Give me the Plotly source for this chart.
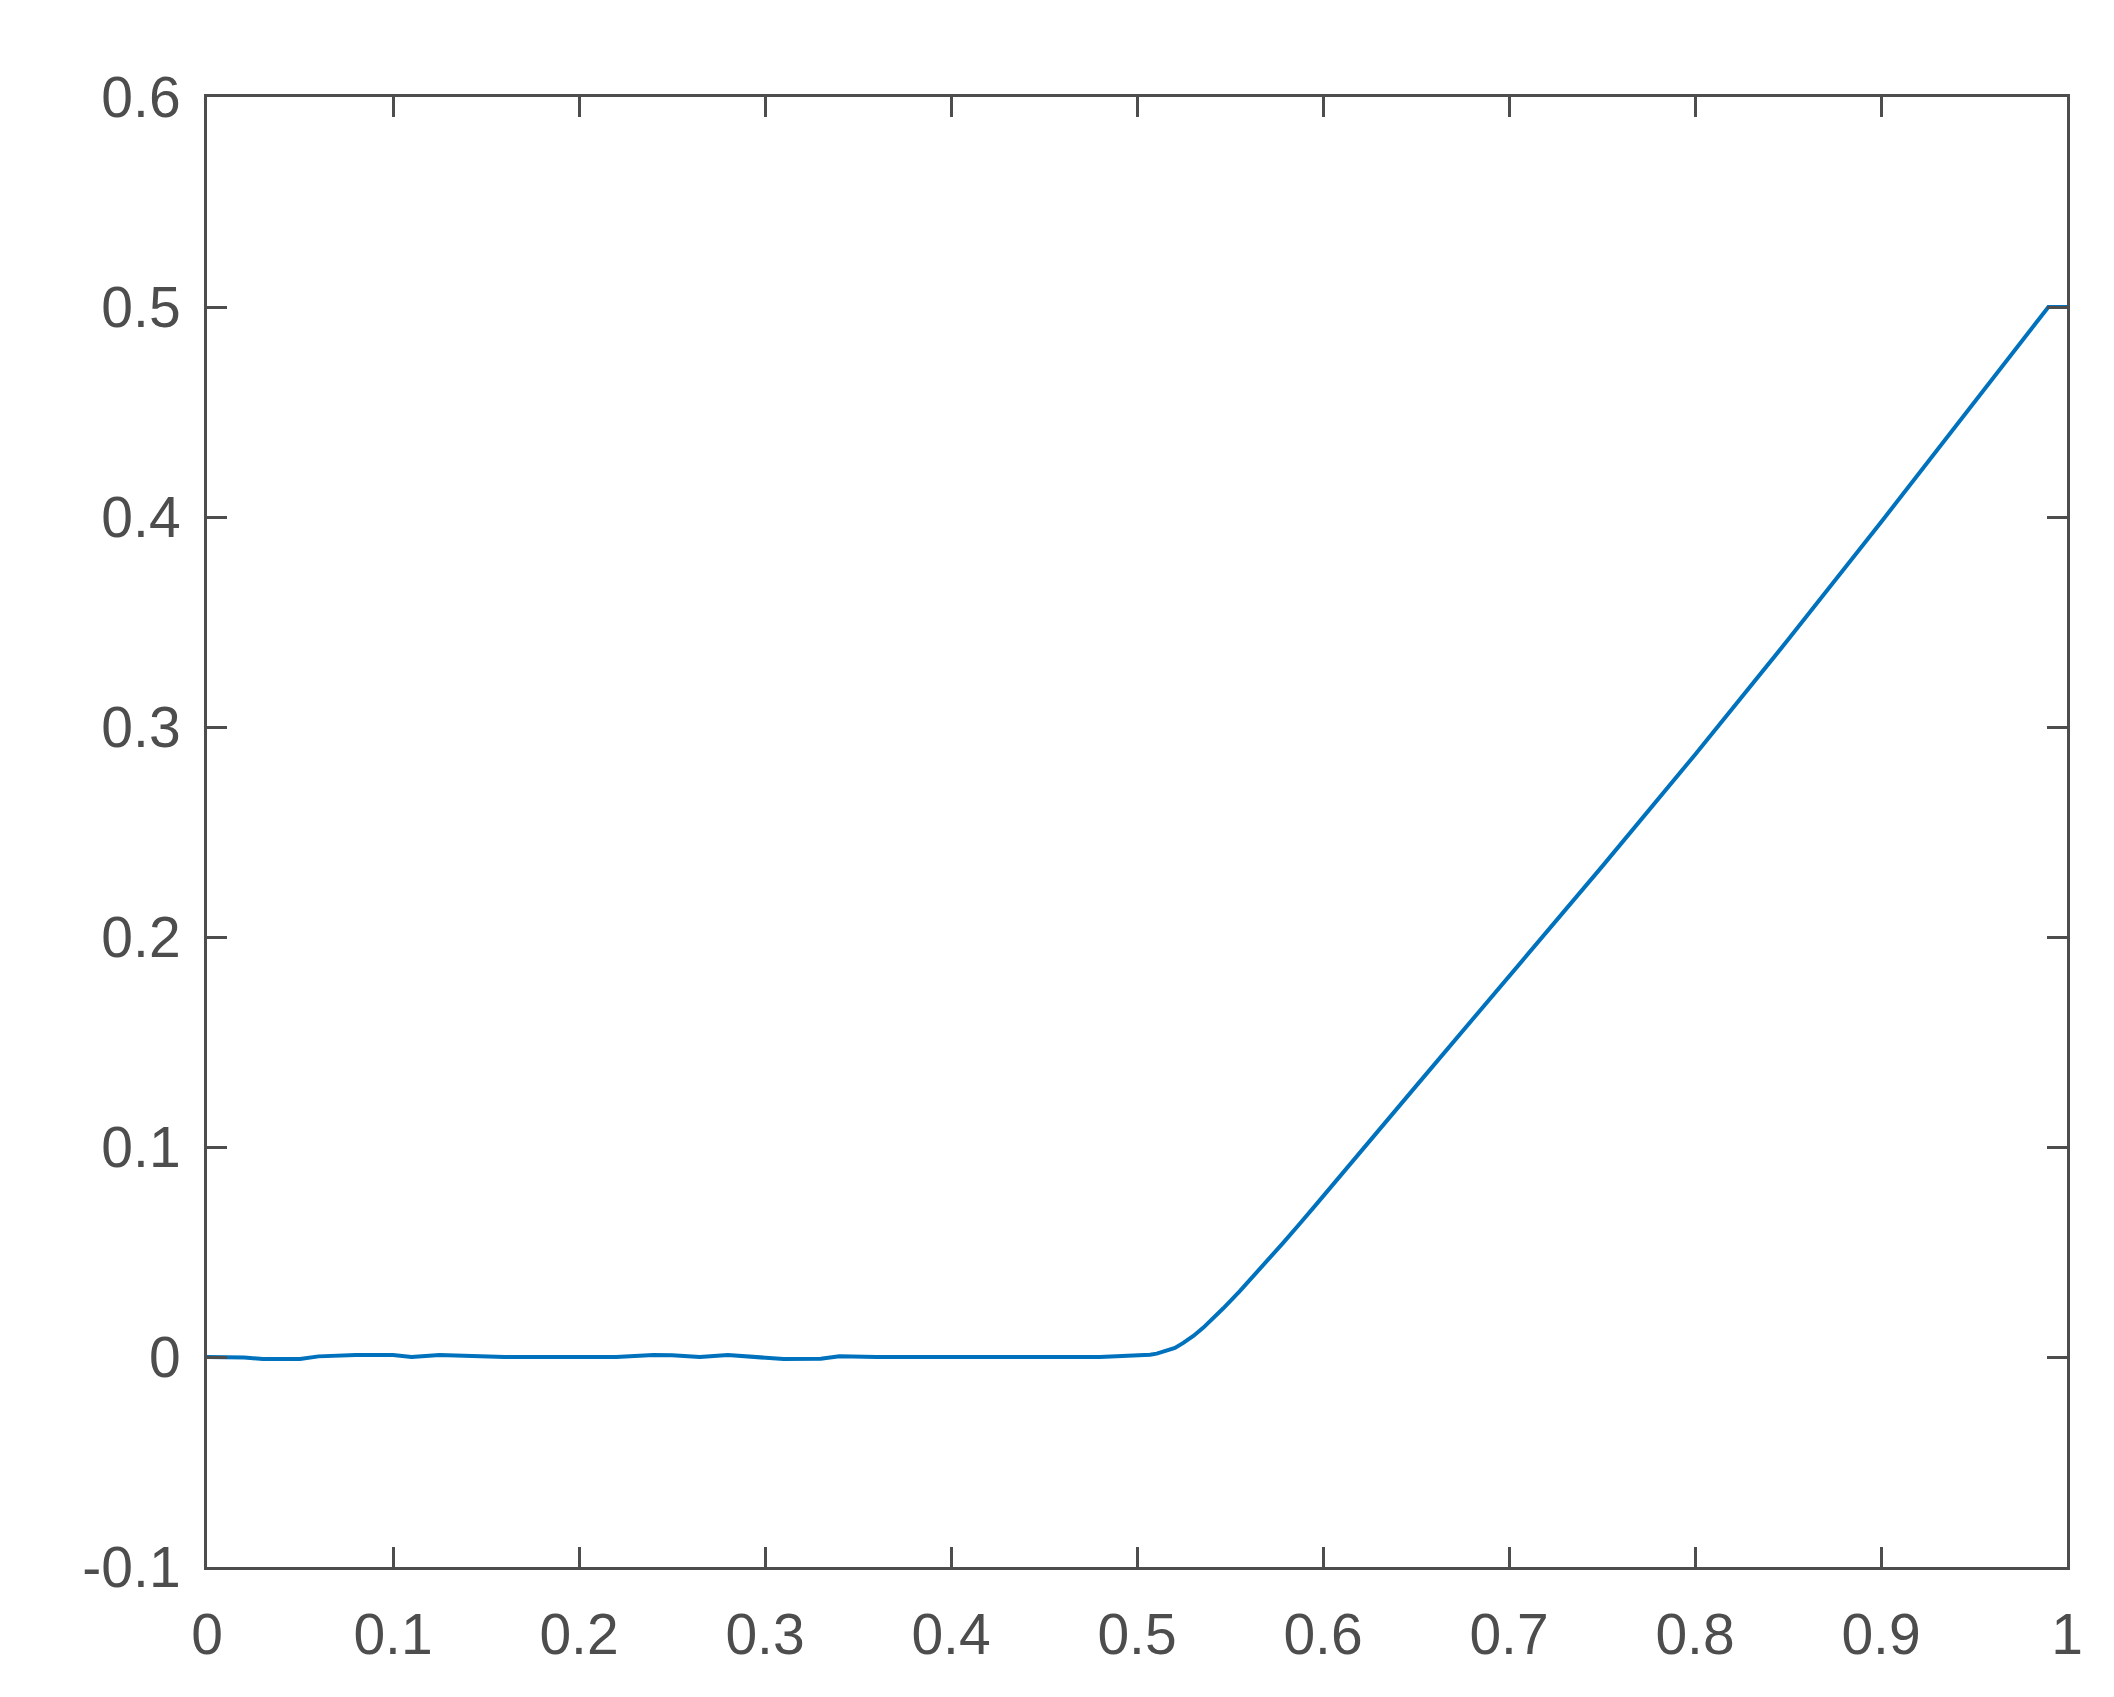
import plotly.graph_objects as go

# curve
x_vals = [0.0, 0.01, 0.02, 0.03, 0.05, 0.06, 0.08, 0.10, 0.11, 0.125, 0.14, 0.16,
          0.22, 0.24, 0.25, 0.265, 0.28, 0.295, 0.31, 0.33, 0.34, 0.36, 0.39, 0.40,
          0.42, 0.48, 0.4909, 0.5025, 0.507, 0.5106, 0.516, 0.5204, 0.5249, 0.5303,
          0.5357, 0.541, 0.5464, 0.5554, 0.5625, 0.5697, 0.5787, 0.5876, 0.5966,
          0.65, 0.70, 0.75, 0.80, 0.85, 0.90, 0.95, 0.99, 1.0]
y_vals = [0.0, 0.0, -0.0002, -0.001, -0.001, 0.0003, 0.001, 0.001, 0.0, 0.001, 0.0004, 0.0,
          0.0, 0.001, 0.0008, 0.0, 0.001, 0.0002, -0.001, -0.0008, 0.0004, 0.0, 0.0002, -0.0002,
          0.0, 0.0, 0.0003, 0.0008, 0.0011, 0.0016, 0.0029, 0.0043, 0.0067, 0.0100,
          0.0140, 0.0184, 0.0232, 0.0315, 0.0383, 0.0454, 0.0545, 0.0636, 0.0729,
          0.129, 0.1815, 0.2335, 0.2868, 0.3415, 0.3975, 0.4545, 0.5, 0.5]

x_ticks = [0, 0.1, 0.2, 0.3, 0.4, 0.5, 0.6, 0.7, 0.8, 0.9, 1]
x_labels = ["0", "0.1", "0.2", "0.3", "0.4", "0.5", "0.6", "0.7", "0.8", "0.9", "1"]
y_ticks = [-0.1, 0, 0.1, 0.2, 0.3, 0.4, 0.5, 0.6]
y_labels = ["-0.1", "0", "0.1", "0.2", "0.3", "0.4", "0.5", "0.6"]

axis_color = "#4d4d4d"

fig = go.Figure()
fig.add_trace(go.Scatter(x=x_vals, y=y_vals, mode="lines",
                         line={"color": "#0072BD", "width": 4},
                         showlegend=False))

axis_style = {
    "showline": True,
    "linecolor": axis_color,
    "linewidth": 3,
    "mirror": "ticks",
    "ticks": "inside",
    "ticklen": 20,
    "tickwidth": 3,
    "tickcolor": axis_color,
    "showgrid": False,
    "zeroline": False,
    "tickfont": {"family": "Liberation Sans, Arial, sans-serif", "size": 57, "color": axis_color},
}

fig.update_xaxes(range=[0, 1], tickvals=x_ticks, ticktext=x_labels,
                 ticklabelstandoff=16, **axis_style)
fig.update_yaxes(range=[-0.1, 0.6], tickvals=y_ticks, ticktext=y_labels,
                 ticklabelstandoff=12, **axis_style)

fig.update_layout(
    width=2114,
    height=1697,
    autosize=False,
    margin={"l": 207, "r": 47, "t": 97, "b": 130, "pad": 0},
    plot_bgcolor="white",
    paper_bgcolor="white",
)

fig.write_html("out.html", config={"displayModeBar": False},
               post_script="document.body.style.margin='0';")
